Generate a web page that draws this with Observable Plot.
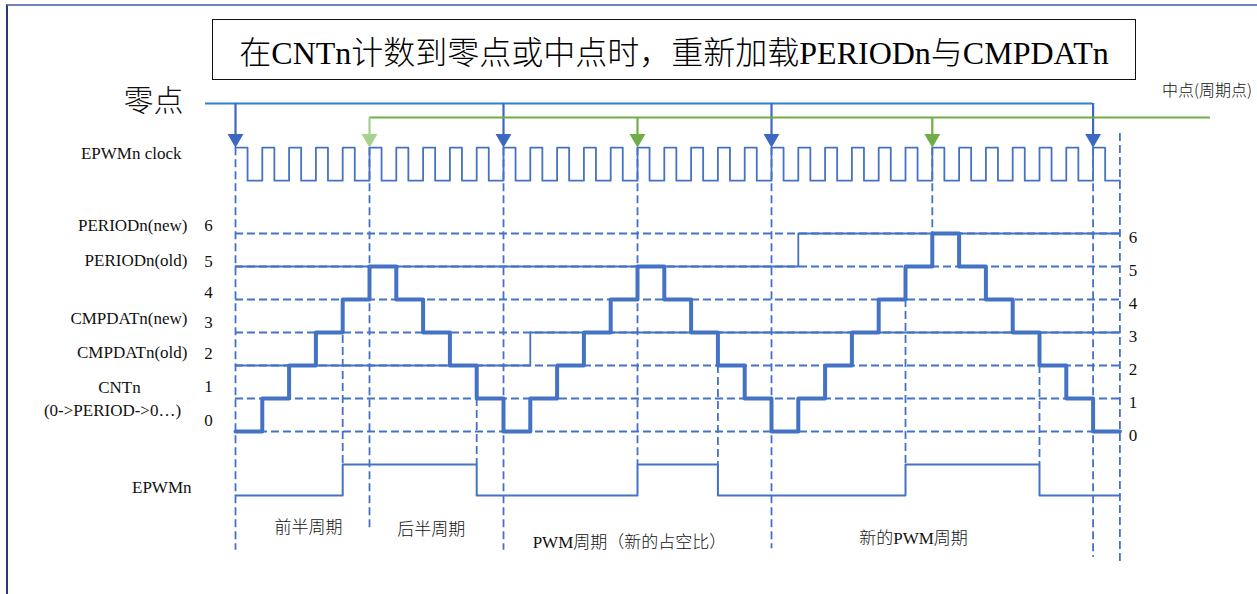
<!DOCTYPE html>
<html><head><meta charset="utf-8">
<script src="https://cdn.jsdelivr.net/npm/d3@7"></script>
<script src="https://cdn.jsdelivr.net/npm/@observablehq/plot@0.6"></script>
<style>
body{margin:0;background:#fff;}
#wrap{position:relative;width:1257px;height:594px;overflow:hidden;font-family:"Liberation Serif","Noto Sans CJK SC",serif;}
#frame{position:absolute;left:6px;top:4px;right:-10px;bottom:-10px;border-left:2px solid #2b3b72;border-top:2px solid #7384b4;}
#chart{position:absolute;left:0;top:0;}
#title{position:absolute;left:212px;top:19px;width:922px;height:59px;border:1.4px solid #111;display:flex;align-items:center;justify-content:center;font-size:32px;font-weight:300;color:#000;white-space:nowrap;}
</style></head>
<body><div id="wrap"><div id="frame"></div><div id="chart"></div><div id="title">在CNTn计数到零点或中点时，重新加载PERIODn与CMPDATn</div></div>
<script>
// ---- data (time in clock steps, values in counter levels) ----
const clockRises = [0,1,2,3,4,5,6,7,8,9,10,11,12,13,14,15,16,17,18,19,20,21,22,23,24,25,26,27,28,29,30,31,32];
const cntValues  = [0,1,2,3,4,5,4,3,2,1, 0,1,2,3,4,5,4,3,2,1, 0,1,2,3,4,5,6,5,4,3,2,1, 0];
const zeroPoints = [0,10,20,32];
const midPoints  = [5,15,26];
const levels     = [0,1,2,3,4,5,6];
const periodTimes  = [0,21,33];
const periodValues = [5,6,6];
const cmpTimes  = [0,11,33];
const cmpValues = [2,3,3];
const pwmTimes  = [0,4,9,15,18,25,30,33];
const pwmStates = [0,1,0,1,0,1,0,0];
const markerTimes = [0,4,5,9,10,15,18,20,25,26,30,32,33];
const leftLabels = ["PERIODn(new)","PERIODn(old)","CMPDATn(new)","CMPDATn(old)"];
const leftLabelLevels = [6,5,3,2];
const tickLabels = ["0","1","2","3","4","5","6"];
const bottomLabels = ["前半周期","后半周期","PWM周期（新的占空比）","新的PWM周期"];

// ---- layout constants (in level units) ----
const CLK_H = 8.6, CLK_L = 7.6, PWM_H = -1.0, PWM_L = -1.94, ZERO_Y = 9.94, MID_Y = 9.515;
const markerTops    = [CLK_H,4,CLK_H,1,CLK_H,CLK_H,2,CLK_H,4,CLK_H,2,CLK_H,9.03];
const markerBottoms = [-3.6,PWM_H,-3.0,PWM_H,-3.6,PWM_H,PWM_H,-3.55,PWM_H,6,PWM_H,-3.82,-3.97];

const BLUE = "#4472C4", DASH = "8,4";

// ---- tables built from the arrays ----
const cntPts = cntValues.map((v,i)=>({t:i, v})).concat([{t:33, v:cntValues[cntValues.length-1]}]);
const clockPts = [];
clockRises.forEach(r => { clockPts.push({t:r,v:CLK_H},{t:r+0.45,v:CLK_H},{t:r+0.45,v:CLK_L},{t:r+1,v:CLK_L}); });
const periodPts = periodTimes.map((t,i)=>({t, v:periodValues[i]}));
const cmpPts = cmpTimes.map((t,i)=>({t, v:cmpValues[i]}));
const pwmPts = pwmTimes.map((t,i)=>({t, v: pwmStates[i] ? PWM_H : PWM_L}));
const markers = markerTimes.map((t,i)=>({t, top:markerTops[i], bottom:markerBottoms[i]}));

const leftDy = [-8,-6,-14,-13];
const numDy = [-11,-12,-12,-10,-7,-5,-8];
const bottomT = [2.72,7.3,14.7,25.3];
const bottomDy = [32,34,47,43];

const txt = (s, o) => Plot.text([s], {text: d=>d, fill:"#111", ...o});

const marks = [
  Plot.ruleY(levels, {y:d=>d, x1:0, x2:33, stroke:BLUE, strokeWidth:1.8, strokeDasharray:DASH}),
  Plot.ruleX(markers, {x:"t", y1:"top", y2:"bottom", stroke:BLUE, strokeWidth:1.8, strokeDasharray:DASH}),
  Plot.line(periodPts, {x:"t", y:"v", curve:"step-after", stroke:BLUE, strokeWidth:1.8}),
  Plot.line(cmpPts, {x:"t", y:"v", curve:"step-after", stroke:BLUE, strokeWidth:1.8}),
  Plot.line(cntPts, {x:"t", y:"v", curve:"step-after", stroke:BLUE, strokeWidth:4}),
  Plot.line(clockPts, {x:"t", y:"v", stroke:BLUE, strokeWidth:1.8}),
  Plot.line(pwmPts, {x:"t", y:"v", curve:"step-after", stroke:BLUE, strokeWidth:2}),
  Plot.ruleY([ZERO_Y], {x1:-1.12, x2:32, stroke:"#2f80d2", strokeWidth:2}),
  Plot.ruleX(zeroPoints, {x:d=>d, y1:ZERO_Y, y2:CLK_H+0.4, stroke:"#3d68c2", strokeWidth:2.2}),
  Plot.dot(zeroPoints, {x:d=>d, y:CLK_H, symbol:"triangle", rotate:180, r:5.9, dy:-9.2, fill:"#3d68c2"}),
  Plot.ruleY([MID_Y], {x1:5, x2:36.38, stroke:"#70AD47", strokeWidth:2}),
  Plot.ruleX(midPoints, {x:d=>d, y1:MID_Y, y2:CLK_H+0.4, stroke:(d,i)=> i===0 ? "#A9D18E" : "#70AD47", strokeWidth:2.2}),
  Plot.dot(midPoints, {x:d=>d, y:CLK_H, symbol:"triangle", rotate:180, r:5.9, dy:-9.2, fill:(d,i)=> i===0 ? "#A9D18E" : "#70AD47"}),
  txt("零点", {x:0, y:ZERO_Y, dx:-82, dy:-2, fontSize:30, fontWeight:300, fontFamily:"Noto Sans CJK SC"}),
  txt("中点(周期点)", {x:33, y:MID_Y, dx:42, dy:-27, textAnchor:"start", fontSize:16, fontWeight:300, fontFamily:"Noto Sans CJK SC"}),
  txt("EPWMn clock", {x:0, y:CLK_H, dx:-54, dy:6, textAnchor:"end"}),
  ...leftLabels.map((s,i)=> txt(s, {x:0, y:leftLabelLevels[i], dx:-48, dy:leftDy[i], textAnchor:"end"})),
  txt("CNTn", {x:0, y:1, dx:-116, dy:-11}),
  txt("(0->PERIOD->0…)", {x:0, y:1, dx:-123, dy:12}),
  txt("EPWMn", {x:0, y:PWM_H, dx:-44, dy:23, textAnchor:"end"}),
  ...tickLabels.map((s,i)=> txt(s, {x:0, y:i, dx:-27, dy:numDy[i]})),
  ...tickLabels.map((s,i)=> txt(s, {x:33, y:i, dx:13, dy:4})),
  ...bottomLabels.map((s,i)=> txt(s, {x:bottomT[i], y:PWM_L, dy:bottomDy[i], fontSize:17, fontWeight:300}))
];

const chart = Plot.plot({
  width:1257, height:594, margin:0,
  x:{domain:[0,33], range:[235,1119.4], axis:null},
  y:{domain:[0,6], range:[431,233], axis:null},
  style:{background:"transparent", fontFamily:"'Liberation Serif','Noto Sans CJK SC',serif", fontSize:"17px", overflow:"visible"},
  marks
});
document.getElementById("chart").appendChild(chart);
</script>
</body></html>
